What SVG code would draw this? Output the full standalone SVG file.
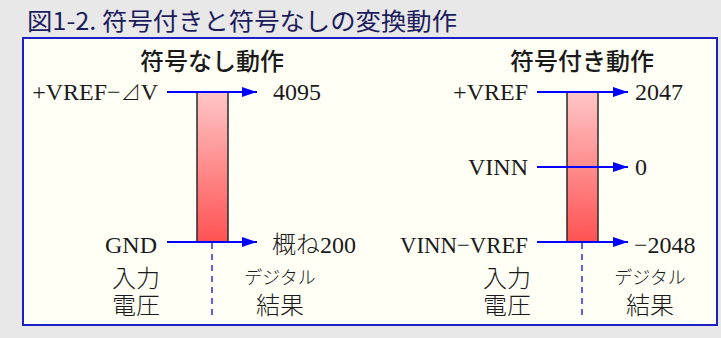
<svg xmlns="http://www.w3.org/2000/svg" width="721" height="338" viewBox="0 0 721 338">
<defs>
<linearGradient id="barGrad" x1="0" y1="0" x2="0" y2="1">
<stop offset="0" stop-color="#ffc6c6"/>
<stop offset="1" stop-color="#ff5252"/>
</linearGradient>
<marker id="arr" viewBox="0 0 15 10" refX="15" refY="5" markerWidth="15" markerHeight="10" markerUnits="userSpaceOnUse" orient="auto">
<path d="M0,0 L15,5 L0,10 z" fill="#0000ff"/>
</marker>
<style>
.title{font-family:"Noto Sans CJK JP",sans-serif;font-size:24px;font-weight:400;fill:#1c1c5c;}
.head{font-family:"Noto Sans CJK JP",sans-serif;font-size:24px;font-weight:500;fill:#1a1a1a;text-anchor:middle;}
.lbl{font-family:"Liberation Serif","Noto Sans CJK JP",serif;font-size:24px;font-weight:400;fill:#1a1a1a;}
.cj{font-family:"Liberation Serif","Noto Sans CJK JP",serif;font-weight:300;font-size:24px;fill:#1a1a1a;text-anchor:middle;}
.cjs{font-family:"Liberation Serif","Noto Sans CJK JP",serif;font-weight:300;font-size:18px;fill:#1a1a1a;text-anchor:middle;}
.r{text-anchor:end;}
.bar{fill:url(#barGrad);stroke:#2a2a2a;stroke-width:1.5;}
.conn{stroke:#0000ff;stroke-width:2;fill:none;marker-end:url(#arr);}
.dash{stroke:#2a2aff;stroke-width:1.5;stroke-dasharray:6,5;fill:none;}
</style>
</defs>
<rect x="0" y="0" width="721" height="338" fill="#e8e8e8"/>
<text class="title" x="27" y="30" textLength="430" lengthAdjust="spacingAndGlyphs">図1-2. 符号付きと符号なしの変換動作</text>
<rect id="panel" x="23" y="38" width="694" height="287" fill="#fffff6" stroke="#1e1ec8" stroke-width="2"/>

<g id="unsigned">
<text class="head" x="212" y="70">符号なし動作</text>
<g id="bar-unsigned"><rect class="bar" x="197" y="92" width="31" height="150"/></g>
<g id="in-u-top"><text class="lbl r" x="158" y="100">+VREF−<tspan font-weight="300" font-size="20">⊿</tspan>V</text></g>
<g id="out-u-top"><text class="lbl" x="273" y="100">4095</text></g>
<g id="in-u-gnd"><text class="lbl r" x="157" y="253">GND</text></g>
<g id="out-u-gnd"><text class="lbl" x="272" y="253"><tspan font-weight="300">概ね</tspan>200</text></g>
<g id="cap-u-in"><text class="cj" x="136" y="287">入力</text><text class="cj" x="136" y="314">電圧</text></g>
<g id="cap-u-out"><text class="cjs" x="280" y="284">デジタル</text><text class="cj" x="280" y="314">結果</text></g>
</g>

<g id="signed">
<text class="head" x="582" y="70">符号付き動作</text>
<g id="bar-signed"><rect class="bar" x="567" y="92" width="31" height="150"/></g>
<g id="in-s-top"><text class="lbl r" x="528" y="100">+VREF</text></g>
<g id="out-s-top"><text class="lbl" x="635" y="100">2047</text></g>
<g id="in-s-mid"><text class="lbl r" x="528" y="175">VINN</text></g>
<g id="out-s-mid"><text class="lbl" x="635" y="175">0</text></g>
<g id="in-s-bot"><text class="lbl r" x="528" y="253" textLength="128" lengthAdjust="spacingAndGlyphs">VINN−VREF</text></g>
<g id="out-s-bot"><text class="lbl" x="634" y="253">−2048</text></g>
<g id="cap-s-in"><text class="cj" x="507" y="287">入力</text><text class="cj" x="507" y="314">電圧</text></g>
<g id="cap-s-out"><text class="cjs" x="650" y="284">デジタル</text><text class="cj" x="650" y="314">結果</text></g>
</g>

<g id="connectors">
<line class="conn" x1="167" y1="92" x2="257" y2="92"/>
<line class="conn" x1="167" y1="242" x2="257" y2="242"/>
<line class="dash" x1="212" y1="243" x2="212" y2="320"/>
<line class="conn" x1="537" y1="92" x2="628" y2="92"/>
<line class="conn" x1="537" y1="167" x2="628" y2="167"/>
<line class="conn" x1="537" y1="242" x2="628" y2="242"/>
<line class="dash" x1="582" y1="243" x2="582" y2="320"/>
</g>
</svg>
